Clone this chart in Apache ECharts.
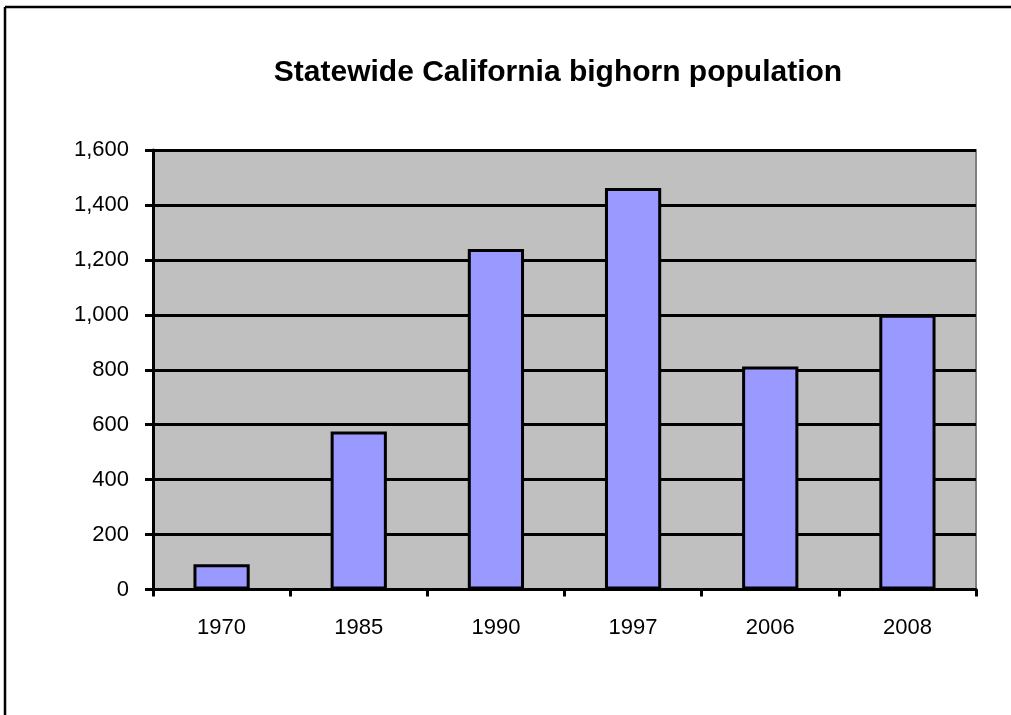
<!DOCTYPE html>
<html>
<head>
<meta charset="utf-8">
<script src="https://cdn.jsdelivr.net/npm/echarts@6/dist/echarts.min.js"></script>
<style>
html,body{margin:0;padding:0;background:#fff;}
#chart{width:1011px;height:715px;}
</style>
</head>
<body>
<div id="chart"></div>
<script>
const titleText = 'Statewide California bighorn population';
const years = ['1970', '1985', '1990', '1997', '2006', '2008'];
const population = [92, 575, 1240, 1462, 812, 1000];
const yTicks = [0, 200, 400, 600, 800, 1000, 1200, 1400, 1600];

const chart = echarts.init(document.getElementById('chart'), null, {renderer: 'canvas'});
const font = '"Liberation Sans", Arial, sans-serif';
chart.setOption({
  animation: false,
  backgroundColor: '#ffffff',
  title: {
    text: titleText,
    left: 553,
    top: 53,
    textAlign: 'center',
    textStyle: {fontFamily: font, fontWeight: 'bold', fontSize: 30, color: '#000'}
  },
  graphic: [
    {type: 'line', shape: {x1: 5, y1: 7, x2: 1011, y2: 7}, style: {stroke: '#000', lineWidth: 2.5}},
    {type: 'line', shape: {x1: 5, y1: 7, x2: 5, y2: 715}, style: {stroke: '#000', lineWidth: 2.5}}
  ],
  grid: {
    left: 153, right: 35, top: 150, bottom: 125.5,
    show: true, backgroundColor: '#C0C0C0', borderColor: '#808080', borderWidth: 2
  },
  xAxis: {
    type: 'category',
    data: years,
    boundaryGap: true,
    axisLine: {show: true, lineStyle: {color: '#000', width: 3}},
    axisTick: {show: true, alignWithLabel: false, length: 7, lineStyle: {color: '#000', width: 3}},
    axisLabel: {fontFamily: font, fontSize: 22, color: '#000', margin: 27}
  },
  yAxis: {
    type: 'value',
    min: 0, max: 1600, interval: 200,
    axisLine: {show: true, lineStyle: {color: '#000', width: 3}},
    axisTick: {show: true, length: 8, lineStyle: {color: '#000', width: 3}},
    splitLine: {show: true, lineStyle: {color: '#000', width: 3}},
    axisLabel: {
      fontFamily: font, fontSize: 22, color: '#000', margin: 24,
      formatter: function (v) { return yTicks.indexOf(v) >= 0 ? v.toLocaleString('en-US') : ''; }
    }
  },
  series: [{
    type: 'bar',
    data: population,
    barWidth: '41%',
    itemStyle: {color: '#9999FF', borderColor: '#000', borderWidth: 3}
  }]
});
</script>
</body>
</html>
